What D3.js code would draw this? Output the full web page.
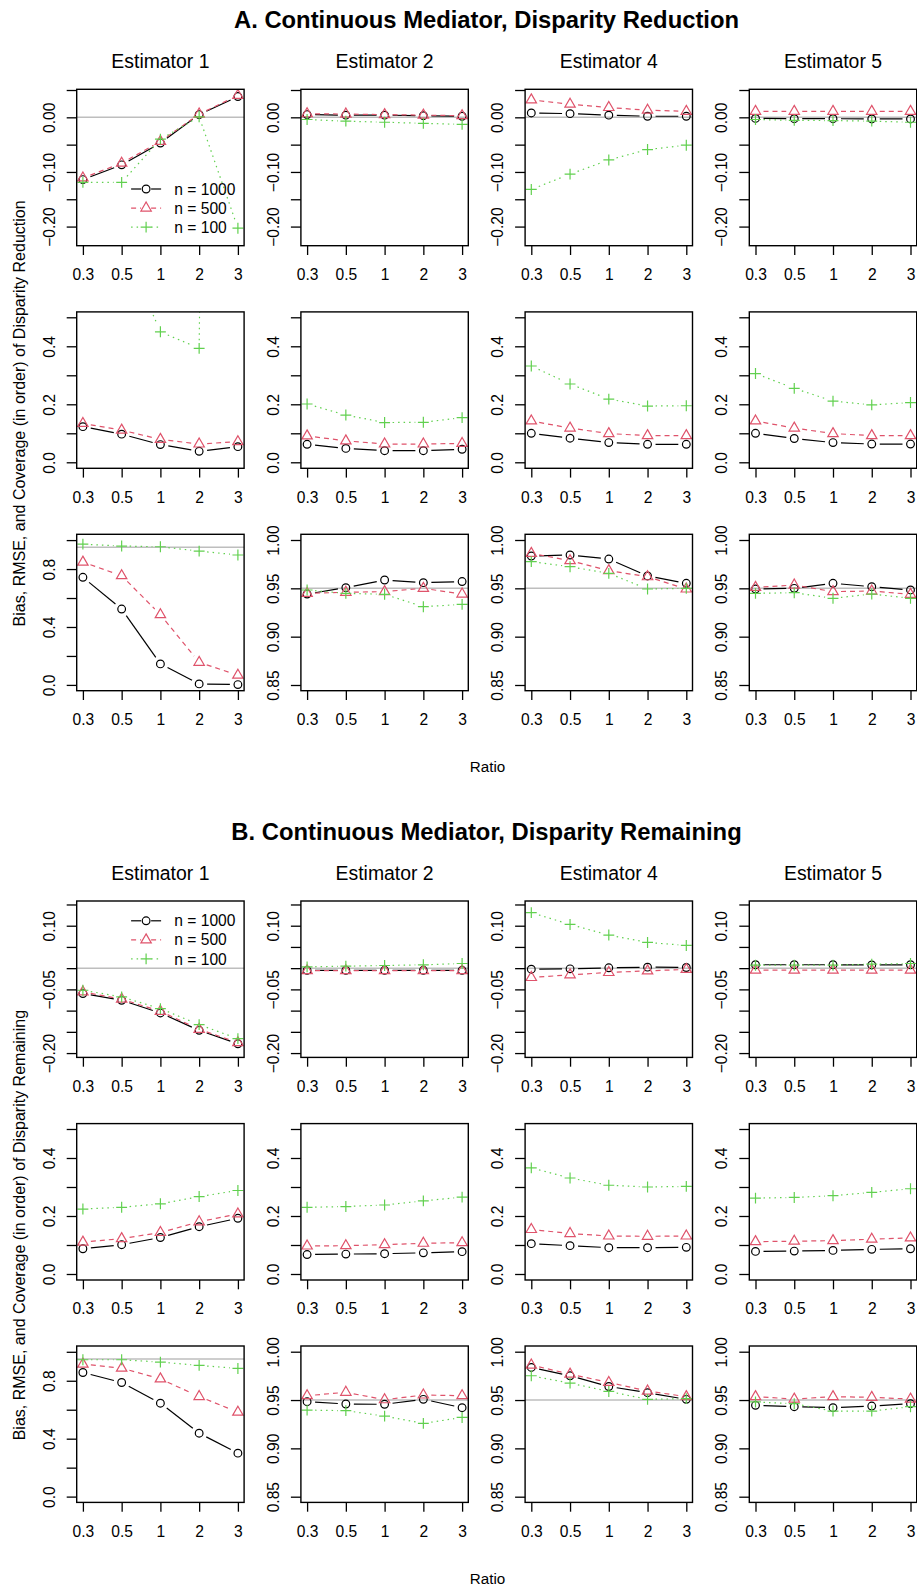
<!DOCTYPE html>
<html>
<head>
<meta charset="utf-8">
<script src="https://cdn.jsdelivr.net/npm/d3@7"></script>
<style>
  body { margin: 0; background: #fff; }
  svg { font-family: "Liberation Sans", Arial, Helvetica, sans-serif; }
</style>
</head>
<body>
<svg id="chart" width="917" height="1587"></svg>
<script>
const ratios = ["0.3", "0.5", "1", "2", "3"];
const estimators = ["Estimator 1", "Estimator 2", "Estimator 4", "Estimator 5"];
const sampleSizes = ["n = 1000", "n = 500", "n = 100"];

// per estimator: [n = 1000, n = 500, n = 100]
const reductionBias = [
  [[-0.114, -0.087, -0.047, 0.005, 0.038], [-0.111, -0.084, -0.044, 0.006, 0.040], [-0.119, -0.119, -0.040, 0.001, -0.203]],
  [[0.005, 0.004, 0.004, 0.003, 0.002], [0.0065, 0.006, 0.005, 0.004, 0.003], [-0.004, -0.007, -0.009, -0.011, -0.013]],
  [[0.008, 0.0067, 0.004, 0.002, 0.002], [0.032, 0.024, 0.018, 0.013, 0.011], [-0.132, -0.104, -0.078, -0.059, -0.051]],
  [[-0.002, -0.0025, -0.0025, -0.003, -0.003], [0.011, 0.011, 0.011, 0.011, 0.011], [-0.004, -0.0055, -0.006, -0.007, -0.009]]
];
const reductionRmse = [
  [[0.123, 0.097, 0.061, 0.038, 0.054], [0.134, 0.111, 0.079, 0.063, 0.071], [0.95, 0.76, 0.45, 0.393, 12]],
  [[0.062, 0.048, 0.040, 0.040, 0.045], [0.091, 0.074, 0.063, 0.063, 0.065], [0.201, 0.163, 0.137, 0.138, 0.154]],
  [[0.100, 0.083, 0.068, 0.062, 0.062], [0.1425, 0.118, 0.099, 0.092, 0.092], [0.332, 0.270, 0.218, 0.194, 0.195]],
  [[0.100, 0.082, 0.068, 0.063, 0.063], [0.1425, 0.118, 0.099, 0.092, 0.092], [0.306, 0.255, 0.211, 0.198, 0.206]]
];
const reductionCoverage = [
  [[0.743, 0.524, 0.145, 0.007, 0.002], [0.848, 0.754, 0.485, 0.156, 0.067], [0.972, 0.959, 0.954, 0.924, 0.897]],
  [[0.9441, 0.9507, 0.9586, 0.9559, 0.957], [0.9448, 0.9459, 0.9466, 0.95, 0.9441], [0.9483, 0.9448, 0.9438, 0.931, 0.9334]],
  [[0.9834, 0.9845, 0.9803, 0.9628, 0.9552], [0.9862, 0.9786, 0.9683, 0.962, 0.9493], [0.9776, 0.9724, 0.9655, 0.9493, 0.95]],
  [[0.9493, 0.95, 0.9552, 0.9517, 0.9483], [0.951, 0.9534, 0.9466, 0.9472, 0.9438], [0.9448, 0.9455, 0.9397, 0.9441, 0.9397]]
];

const remainingBias = [
  [[-0.0598, -0.0756, -0.1055, -0.1465, -0.178], [-0.056, -0.073, -0.1016, -0.144, -0.1756], [-0.052, -0.0677, -0.0953, -0.133, -0.166]],
  [[-0.005, -0.005, -0.005, -0.005, -0.005], [-0.006, -0.006, -0.006, -0.006, -0.006], [0.003, 0.0047, 0.0063, 0.0079, 0.011]],
  [[-0.0024, -0.0016, 0.0008, 0.0024, 0.0016], [-0.022, -0.0157, -0.0102, -0.0063, -0.003], [0.1307, 0.103, 0.078, 0.0606, 0.0535]],
  [[0.008, 0.008, 0.008, 0.0075, 0.008], [-0.0047, -0.0047, -0.0047, -0.0047, -0.0047], [0.007, 0.007, 0.007, 0.0094, 0.011]]
];
const remainingRmse = [
  [[0.087, 0.101, 0.1256, 0.163, 0.192], [0.11, 0.122, 0.143, 0.18, 0.207], [0.224, 0.23, 0.242, 0.267, 0.288]],
  [[0.067, 0.0686, 0.07, 0.073, 0.077], [0.0965, 0.0977, 0.101, 0.106, 0.108], [0.23, 0.2326, 0.238, 0.252, 0.265]],
  [[0.1047, 0.0977, 0.0907, 0.0907, 0.0919], [0.1535, 0.1395, 0.131, 0.130, 0.131], [0.366, 0.331, 0.306, 0.3, 0.302]],
  [[0.078, 0.079, 0.0814, 0.085, 0.087], [0.1116, 0.113, 0.115, 0.12, 0.1244], [0.2616, 0.264, 0.27, 0.2814, 0.294]]
];
const remainingCoverage = [
  [[0.857, 0.788, 0.645, 0.438, 0.3], [0.915, 0.887, 0.813, 0.691, 0.583], [0.945, 0.945, 0.929, 0.906, 0.885]],
  [[0.9483, 0.9459, 0.9456, 0.9507, 0.9421], [0.9545, 0.958, 0.9503, 0.9552, 0.9545], [0.9396, 0.939, 0.9334, 0.9258, 0.932]],
  [[0.9837, 0.9751, 0.964, 0.9576, 0.9507], [0.9862, 0.9768, 0.9682, 0.9593, 0.9535], [0.9751, 0.9675, 0.9589, 0.9507, 0.9514]],
  [[0.9445, 0.9431, 0.9421, 0.9438, 0.9462], [0.9535, 0.951, 0.9535, 0.9528, 0.951], [0.948, 0.9462, 0.9386, 0.9386, 0.9431]]
];

// y tick values and the labels R kept (empty = unlabeled tick)
const biasTicksA = [-0.20, -0.15, -0.10, -0.05, 0.00, 0.05];
const biasLabelsA = ["\u22120.20", "", "\u22120.10", "", "0.00", ""];
const biasTicksB = [-0.20, -0.15, -0.10, -0.05, 0.00, 0.05, 0.10, 0.15];
const biasLabelsB = ["\u22120.20", "", "", "\u22120.05", "", "", "0.10", ""];
const rmseTicks = [0, 0.1, 0.2, 0.3, 0.4, 0.5];
const rmseLabels = ["0.0", "", "0.2", "", "0.4", ""];
const covTicksWide = [0, 0.2, 0.4, 0.6, 0.8, 1.0];
const covLabelsWide = ["0.0", "", "0.4", "", "0.8", ""];
const covTicksNarrow = [0.85, 0.90, 0.95, 1.00];
const covLabelsNarrow = ["0.85", "0.90", "0.95", "1.00"];

// ---------------- layout
const panelW = 167.4, panelH = 156.4;
const colX = [76.7, 300.9, 525.1, 749.3];
const rowY = [89.3, 311.9, 534.3];
const tickFont = 15.6;
const markR = 3.85;   // pch radius
const lineGap = 8;    // type = "b" gap around points

const seriesStyle = [
  { color: "#000000", dash: null, pch: "circle" },
  { color: "#DF536B", dash: "5,4", pch: "triangle" },
  { color: "#61D04F", dash: "1.5,4", pch: "plus" }
];

const sections = [
  {
    top: 0,
    title: "A. Continuous Mediator, Disparity Reduction",
    ylab: "Bias, RMSE, and Coverage (in order) of Disparity Reduction",
    rows: [reductionBias, reductionRmse, reductionCoverage],
    bias: { domain: [-0.235, 0.0513], ticks: biasTicksA, labels: biasLabelsA },
    legendY: 99.7
  },
  {
    top: 811.7,
    title: "B. Continuous Mediator, Disparity Remaining",
    ylab: "Bias, RMSE, and Coverage (in order) of Disparity Remaining",
    rows: [remainingBias, remainingRmse, remainingCoverage],
    bias: { domain: [-0.2102, 0.1582], ticks: biasTicksB, labels: biasLabelsB },
    legendY: 19.8
  }
];

function yAxisSpec(sec, row, col) {
  if (row === 0) return { ...sec.bias, ref: 0 };
  if (row === 1) return { domain: [-0.0207, 0.5186], ticks: rmseTicks, labels: rmseLabels, ref: null };
  if (col === 0) return { domain: [-0.04, 1.04], ticks: covTicksWide, labels: covLabelsWide, ref: 0.95 };
  return { domain: [0.8441, 1.0059], ticks: covTicksNarrow, labels: covLabelsNarrow, ref: 0.95 };
}

function markPath(pch) {
  const r = markR;
  if (pch === "triangle") {
    return `M0,${-1.555 * r}L${1.347 * r},${0.778 * r}L${-1.347 * r},${0.778 * r}Z`;
  }
  if (pch === "plus") {
    const a = 1.414 * r;
    return `M${-a},0H${a}M0,${-a}V${a}`;
  }
  return d3.symbol().type(d3.symbolCircle).size(Math.PI * r * r)();
}

const svg = d3.select("#chart");
let clipCount = 0;

function drawPanel(g, series, spec) {
  const x = d3.scalePoint().domain(ratios).range([0, panelW]).padding(0.16);
  const y = d3.scaleLinear().domain(spec.domain).range([panelH, 0]);

  const clipId = "clip" + (clipCount++);
  g.append("clipPath").attr("id", clipId)
    .append("rect").attr("width", panelW).attr("height", panelH);

  const plot = g.append("g").attr("clip-path", `url(#${clipId})`);

  if (spec.ref !== null) {
    plot.append("line")
      .attr("x1", 0).attr("x2", panelW)
      .attr("y1", y(spec.ref)).attr("y2", y(spec.ref))
      .attr("stroke", "#BEBEBE").attr("stroke-width", 1.5);
  }

  series.forEach((vals, si) => {
    const st = seriesStyle[si];
    const pts = vals.map((v, i) => [x(ratios[i]), y(v)]);
    const sg = plot.append("g");
    // segments with a gap around each point, like type = "b"
    for (let i = 1; i < pts.length; i++) {
      const [x0, y0] = pts[i - 1], [x1, y1] = pts[i];
      const dist = Math.hypot(x1 - x0, y1 - y0);
      if (dist <= 2 * lineGap) continue;
      const ux = (x1 - x0) / dist, uy = (y1 - y0) / dist;
      sg.append("line")
        .attr("x1", x0 + ux * lineGap).attr("y1", y0 + uy * lineGap)
        .attr("x2", x1 - ux * lineGap).attr("y2", y1 - uy * lineGap)
        .attr("stroke", st.color).attr("stroke-width", 1.2)
        .attr("stroke-dasharray", st.dash);
    }
    sg.selectAll("path.pt")
      .data(vals)
      .enter()
      .append("path")
      .attr("class", "pt")
      .attr("transform", (d, i) => `translate(${x(ratios[i])},${y(d)})`)
      .attr("d", markPath(st.pch))
      .attr("fill", "none")
      .attr("stroke", st.color)
      .attr("stroke-width", 1.2);
  });

  // x axis
  const xAxisG = g.append("g")
    .attr("transform", `translate(0,${panelH})`)
    .call(d3.axisBottom(x).tickSize(9.3).tickPadding(14));
  xAxisG.select(".domain").remove();
  xAxisG.selectAll(".tick line").attr("stroke", "#000").attr("stroke-width", 1.3);
  xAxisG.selectAll("text").attr("fill", "#000").attr("font-size", tickFont).attr("font-family", null);

  // y axis, labels parallel to the axis
  const yAxisG = g.append("g")
    .call(d3.axisLeft(y).tickValues(spec.ticks).tickFormat((d, i) => spec.labels[i]).tickSize(10));
  yAxisG.select(".domain").remove();
  yAxisG.selectAll(".tick line").attr("stroke", "#000").attr("stroke-width", 1.3);
  yAxisG.selectAll("text")
    .attr("x", null).attr("dy", "0.35em")
    .attr("text-anchor", "middle")
    .attr("transform", "translate(-27.5,0) rotate(-90)")
    .attr("fill", "#000").attr("font-size", tickFont).attr("font-family", null);

  g.append("rect")
    .attr("width", panelW).attr("height", panelH)
    .attr("fill", "none").attr("stroke", "#000").attr("stroke-width", 1.4);

  return { x, y };
}

function drawLegend(g, top) {
  sampleSizes.forEach((label, i) => {
    const st = seriesStyle[i];
    const cy = top + i * 19.05;
    const lx0 = 54.4, lx1 = 84.4, mid = (lx0 + lx1) / 2;
    [[lx0, mid - 5], [mid + 5, lx1]].forEach(([a, b]) => {
      g.append("line")
        .attr("x1", a).attr("x2", b).attr("y1", cy).attr("y2", cy)
        .attr("stroke", st.color).attr("stroke-width", 1.2)
        .attr("stroke-dasharray", st.dash);
    });
    g.append("path")
      .attr("transform", `translate(${mid},${cy})`)
      .attr("d", markPath(st.pch))
      .attr("fill", "none").attr("stroke", st.color).attr("stroke-width", 1.2);
    g.append("text")
      .attr("x", 97.6).attr("y", cy).attr("dy", "0.36em")
      .attr("font-size", tickFont)
      .text(label);
  });
}

sections.forEach(sec => {
  svg.append("text")
    .attr("x", 486.5).attr("y", sec.top + 28.3)
    .attr("text-anchor", "middle")
    .attr("font-size", 23.8).attr("font-weight", "bold")
    .text(sec.title);

  svg.append("text")
    .attr("transform", `translate(19.5,${sec.top + 413.4}) rotate(-90)`)
    .attr("dy", "0.35em")
    .attr("text-anchor", "middle")
    .attr("font-size", 16)
    .text(sec.ylab);

  svg.append("text")
    .attr("x", 487.5).attr("y", sec.top + 772.3)
    .attr("text-anchor", "middle")
    .attr("font-size", 15.2)
    .text("Ratio");

  estimators.forEach((est, c) => {
    svg.append("text")
      .attr("x", colX[c] + panelW / 2).attr("y", sec.top + rowY[0] - 21)
      .attr("text-anchor", "middle")
      .attr("font-size", 19.4)
      .text(est);
  });

  sec.rows.forEach((rowData, r) => {
    rowData.forEach((series, c) => {
      const g = svg.append("g").attr("transform", `translate(${colX[c]},${sec.top + rowY[r]})`);
      drawPanel(g, series, yAxisSpec(sec, r, c));
      if (r === 0 && c === 0) drawLegend(g, sec.legendY);
    });
  });
});
</script>
</body>
</html>
